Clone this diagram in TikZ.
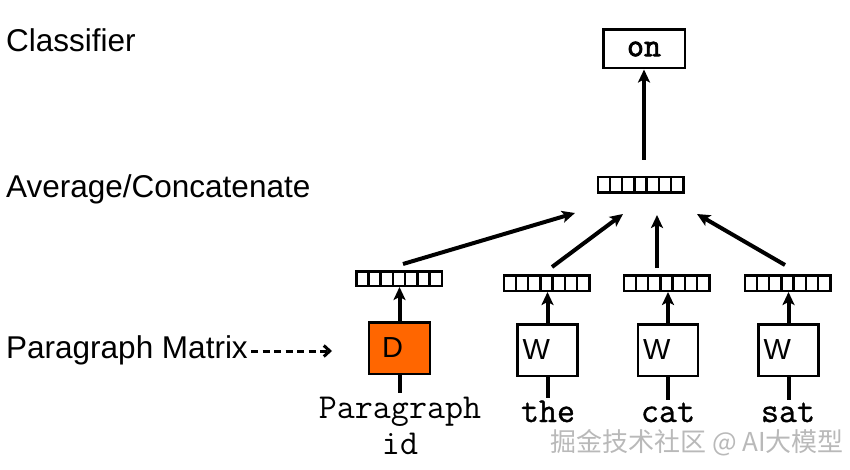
\documentclass[tikz,border=0pt]{standalone}
\usepackage{fontspec}
\setmainfont{Liberation Sans}
\newfontfamily\ttsemi{Latin Modern Mono}[FakeBold=1]
\newfontfamily\ttheavy{Latin Modern Mono}[FakeBold=2.5]
\newfontfamily\cjk{Noto Sans CJK SC}
\usetikzlibrary{arrows.meta,calc}
\definecolor{dorange}{RGB}{255,102,0}
\begin{document}
\begin{tikzpicture}[x=1pt,y=-1pt,
  lbl/.style={inner sep=0, anchor=base west, font=\fontsize{31.5}{36}\selectfont},
  word/.style={inner sep=0, anchor=base, font=\fontsize{35}{40}\selectfont\ttfamily},
  boldword/.style={word, font=\fontsize{35}{40}\selectfont\ttsemi},
  vec/.style={draw, line width=2.5pt, minimum width=85.5pt, minimum height=15.5pt, inner sep=0,
    path picture={\foreach \i in {1,...,6}{\draw[line width=2.5pt]
      ($(path picture bounding box.south west)!\i/7!(path picture bounding box.south east)$) --
      ($(path picture bounding box.north west)!\i/7!(path picture bounding box.north east)$);}}},
  wbox/.style={draw, line width=2.5pt, fill=white, minimum height=51.5pt, text width=50pt,
    inner xsep=5pt, inner ysep=0pt, align=left, font=\fontsize{29}{30}\selectfont},
  dbox/.style={draw, line width=2.5pt, fill=dorange, minimum height=51.5pt, text width=35pt,
    inner xsep=13pt, inner ysep=0pt, align=left, font=\fontsize{29}{30}\selectfont},
  arr/.style={line width=4pt, -{Stealth[length=13pt,width=12pt,inset=3pt]}},
  plain/.style={line width=4pt},
  dasharr/.style={line width=3pt, dash pattern=on 7pt off 4.5pt, -{Straight Barb[length=6pt,width=11pt]}}
]
\useasboundingbox (0,0) rectangle (850,470);

% left labels
\node[lbl] (cls) at (6,52) {Classifier};
\node[lbl] (avgl) at (6,198) {Average/Concatenate};
\node[lbl] (pm) at (6,358) {Paragraph Matrix};

% classifier output
\node[draw, line width=2.5pt, minimum width=81.5pt, minimum height=38.5pt, inner sep=0,
  font=\fontsize{33}{34}\selectfont\ttheavy] (on) at (644,49) {on};

% average vector
\node[vec] (avg) at (640.5,185) {};

% lower vectors
\node[vec, minimum height=14.5pt] (v0) at (399,278.5) {};
\node[vec] (v1) at (546.5,283) {};
\node[vec] (v2) at (666.5,283) {};
\node[vec] (v3) at (787.5,283) {};

% boxes
\node[dbox] (D) at (399.5,348) {D};
\node[wbox] (w1) at (547.5,350) {W};
\node[wbox] (w2) at (668,350) {W};
\node[wbox] (w3) at (788.5,350) {W};

% words
\node[word] (pg) at (400,418) {Paragraph};
\node[word] (pid) at (400,454) {id};
\node[boldword] (the) at (548,422) {the};
\node[boldword] (cat) at (668,422) {cat};
\node[boldword] (sat) at (788,422) {sat};

% input lines
\draw[plain] (D.south) -- ([yshift=3pt]D.south |- pg.north);
\draw[plain] (w1.south) -- ([yshift=2pt]w1.south |- the.north);
\draw[plain] (w2.south) -- ([yshift=2pt]w2.south |- cat.north);
\draw[plain] (w3.south) -- ([yshift=2pt]w3.south |- sat.north);

% box -> vector arrows
\draw[arr] (D.north) -- (D.north |- v0.south);
\draw[arr] (w1.north) -- (w1.north |- v1.south);
\draw[arr] (w2.north) -- (w2.north |- v2.south);
\draw[arr] (w3.north) -- (w3.north |- v3.south);

% vector -> average arrows
\draw[arr] ([xshift=4pt,yshift=6pt]v0.north) -- ([xshift=-65.5pt,yshift=-19pt]avg.south);
\draw[arr] ([xshift=5.5pt,yshift=7pt]v1.north) -- ([xshift=-17.5pt,yshift=-20pt]avg.south);
\draw[arr] ([xshift=-9.5pt,yshift=6pt]v2.north) -- ([xshift=16.5pt,yshift=-21pt]avg.south);
\draw[arr] ([xshift=-2.5pt,yshift=9pt]v3.north) -- ([xshift=56.5pt,yshift=-20pt]avg.south);

% average -> classifier
\draw[arr] ([xshift=3.5pt,yshift=16pt]avg.north) -- (on.south);

% paragraph matrix pointer
\coordinate (pmend) at (332,351);
\draw[dasharr] ([xshift=3pt]pm.east |- pmend) -- (pmend);

% watermark
\node[inner sep=0, anchor=west, text=gray!55, font=\fontsize{26}{28}\selectfont\cjk] (wm) at (550,443) {掘金技术社区 @ AI大模型};
\end{tikzpicture}
\end{document}
